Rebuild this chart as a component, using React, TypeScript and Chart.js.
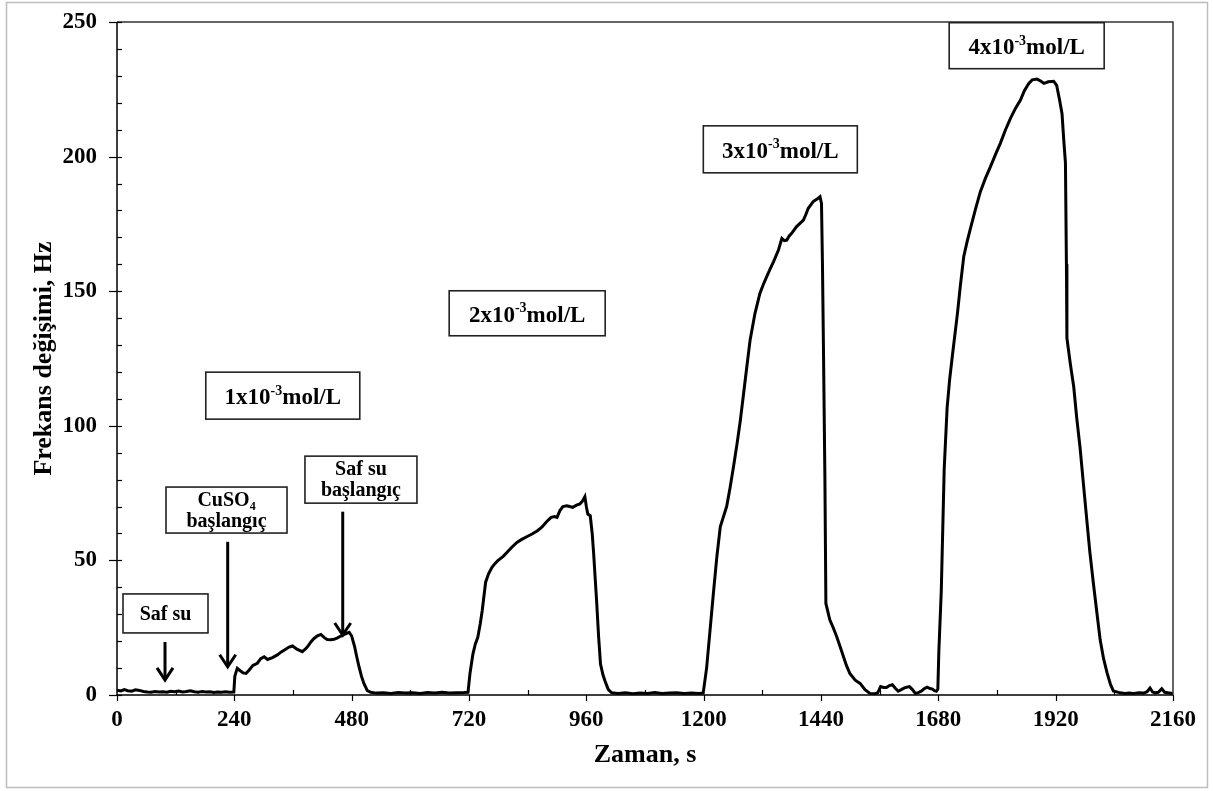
import React, { useEffect, useRef } from 'react';
import { Chart, registerables } from 'chart.js';

Chart.register(...registerables);

// ---- data (time in s, frequency change in Hz) ----
const timeS: number[] = [
  0, 8, 15, 22, 30, 38, 46, 54, 62, 70, 78, 86, 94, 102, 110, 118, 126, 134, 142, 150, 158, 166, 174, 182, 190, 198, 206, 214, 222, 230, 239,
  241, 246, 252, 258, 264, 270, 278, 287, 294, 301, 308, 318, 328, 336, 345, 352, 359, 368, 379, 385, 390, 397, 403, 410, 417, 424, 430, 437, 444, 451, 458, 466, 475, 480, 486, 490, 495, 500, 505, 512, 519,
  530, 545, 560, 575, 590, 605, 620, 635, 650, 665, 680, 695, 710, 718,
  722, 728, 733, 738, 743, 747, 754, 760, 767, 773, 779, 790, 798, 808, 818, 828, 838, 849, 860, 869, 876, 882, 888, 895, 900, 906, 912, 920, 926, 932, 940, 947, 952, 957, 960, 963, 968, 972, 975, 981, 985, 989, 994, 998, 1005, 1012,
  1025, 1040, 1055, 1070, 1085, 1100, 1115, 1130, 1145, 1160, 1175, 1190, 1199,
  1206, 1213, 1220, 1227, 1234, 1240, 1247, 1254, 1261, 1268, 1275, 1285, 1295, 1305, 1315, 1322, 1329, 1336, 1343, 1353, 1360, 1365, 1370, 1375, 1380, 1390, 1397, 1404, 1409, 1414, 1424, 1432, 1438, 1441, 1443, 1445, 1448, 1450, 1458, 1465, 1472, 1479, 1486, 1492, 1499, 1510, 1520, 1530, 1540,
  1550, 1556, 1562, 1568, 1574, 1580, 1586, 1592, 1598, 1606, 1613, 1621, 1627, 1633, 1639, 1645, 1651, 1657, 1663, 1668, 1672, 1676, 1679,
  1681, 1686, 1692, 1698, 1703, 1709, 1719, 1725, 1732, 1739, 1746, 1756, 1766, 1776, 1786, 1797, 1807, 1817, 1828, 1838, 1848, 1856, 1865, 1872, 1882, 1890, 1896, 1905, 1916, 1922, 1928, 1933, 1937, 1940, 1942, 1943, 1950, 1957, 1963, 1970, 1977, 1984, 1990, 1997, 2004, 2011, 2018, 2025, 2032, 2038,
  2052, 2062, 2070, 2080, 2090, 2100, 2107, 2113, 2118, 2123, 2130, 2137, 2143, 2150, 2160,
];

const freqHz: number[] = [
  1.8, 1.5, 2.0, 1.6, 1.4, 1.9, 1.7, 1.3, 1.1, 1.0, 1.3, 1.1, 1.2, 1.0, 1.4, 1.2, 1.5, 1.1, 1.3, 1.6, 1.2, 1.0, 1.3, 1.1, 1.2, 0.9, 1.1, 1.0, 1.2, 1.0, 1.1,
  7.0, 9.9, 9.0, 8.2, 8.0, 9.2, 11.0, 11.8, 13.5, 14.2, 13.2, 13.9, 14.9, 16.0, 17.0, 17.8, 18.2, 17.0, 16.1, 17.0, 18.0, 19.8, 21.0, 22.0, 22.5, 21.3, 20.6, 20.5, 20.7, 21.2, 21.9, 22.6, 23.3, 21.9, 18.0, 14.5, 10.5, 7.0, 4.3, 1.6, 1.0,
  0.7, 0.8, 0.6, 0.9, 0.7, 0.8, 0.6, 0.9, 0.7, 1.0, 0.7, 0.8, 0.9, 1.0,
  8.0, 15.2, 19.0, 21.4, 26.5, 31.3, 41.9, 45.0, 47.4, 48.8, 49.9, 51.5, 53.0, 55.0, 56.7, 57.8, 58.8, 59.8, 61.0, 62.3, 63.8, 65.0, 66.0, 66.3, 66.0, 68.5, 70.0, 70.3, 70.0, 69.7, 70.5, 71.0, 72.0, 73.7, 70.0, 67.2, 66.6, 60.0, 52.4, 35.0, 22.0, 11.5, 7.5, 5.3, 2.0, 0.8,
  0.6, 0.8, 0.5, 0.7, 0.6, 0.9, 0.6, 0.7, 0.8, 0.6, 0.7, 0.6, 0.7,
  10, 24, 38, 51.4, 62.5, 66, 70, 77, 84.8, 93, 102, 117, 131.9, 141.8, 149.2, 152.5, 155.4, 158.3, 161, 165.3, 169.6, 168.8, 169, 170.5, 171.5, 174, 175.2, 176.4, 178.5, 180.8, 183.3, 184.2, 185.1, 182.6, 160, 129.4, 80, 34, 27.9, 25, 21.7, 18, 14.2, 11, 8, 5.5, 4.3, 2, 0.6,
  0.5, 0.8, 3.1, 2.8, 2.8, 3.5, 3.8, 2.5, 1.4, 2.2, 2.8, 3.1, 2.0, 0.6, 0.9, 1.4, 2.3, 2.9, 2.4, 2.2, 1.6, 1.4, 2.2,
  15.9, 38.6, 84, 106.8, 117, 126.5, 141.6, 152, 162.9, 168.5, 173.5, 180.5, 187, 191.8, 196, 200.8, 205, 209.8, 214.4, 218, 221, 224.5, 227.2, 228.5, 228.8, 228.0, 227.2, 227.8, 228, 226.5, 221, 215.9, 205, 197.7, 160, 132.6, 123, 114.4, 103, 91.7, 78, 64.4, 53, 41.7, 31, 20.5, 13.5, 8.3, 4, 1.5,
  0.8, 0.6, 0.7, 0.6, 0.8, 0.7, 1.2, 2.6, 1.2, 0.8, 1.0, 2.3, 1.0, 0.8, 0.6,
];

const xTickValues: number[] = [0, 240, 480, 720, 960, 1200, 1440, 1680, 1920, 2160];
const yTickValues: number[] = [0, 50, 100, 150, 200, 250];

const xTitle = 'Zaman, s';
const yTitle = 'Frekans değişimi, Hz';

type Seg = { s: string; k?: 'sup' | 'sub' };
type Note = { x: number; y: number; w: number; h: number; size: number; lines: Seg[][]; lineOffsets: number[] };

const notes: Note[] = [
  { x: 99.2, y: 30.3, w: 85, h: 39, size: 20, lines: [[{ s: 'Saf su' }]], lineOffsets: [0] },
  { x: 224, y: 68.7, w: 121, h: 46, size: 20, lines: [[{ s: 'CuSO' }, { s: '4', k: 'sub' }], [{ s: 'başlangıç' }]], lineOffsets: [-11, 10] },
  { x: 499, y: 80, w: 112, h: 47, size: 20, lines: [[{ s: 'Saf su' }], [{ s: 'başlangıç' }]], lineOffsets: [-11, 10] },
  { x: 339.1, y: 111.2, w: 154, h: 47, size: 23, lines: [[{ s: '1x10' }, { s: '-3', k: 'sup' }, { s: 'mol/L' }]], lineOffsets: [1] },
  { x: 839, y: 141.8, w: 156, h: 45, size: 23, lines: [[{ s: '2x10' }, { s: '-3', k: 'sup' }, { s: 'mol/L' }]], lineOffsets: [1] },
  { x: 1356.8, y: 202.7, w: 154, h: 47, size: 23, lines: [[{ s: '3x10' }, { s: '-3', k: 'sup' }, { s: 'mol/L' }]], lineOffsets: [1] },
  { x: 1860.7, y: 241.2, w: 155, h: 46, size: 23, lines: [[{ s: '4x10' }, { s: '-3', k: 'sup' }, { s: 'mol/L' }]], lineOffsets: [1] },
];

// arrows: x (s), from y (Hz) down to tip y (Hz)
const arrows = [
  { x: 98.2, from: 19.7, to: 5.6 },
  { x: 226.4, from: 56.9, to: 10.5 },
  { x: 461.7, from: 68.1, to: 22.3 },
];

const FONT = '"Liberation Serif", "Times New Roman", Times, serif';
const W = 1213;
const H = 791;

function drawRich(ctx: CanvasRenderingContext2D, segs: Seg[], cx: number, cy: number, size: number) {
  const main = `bold ${size}px ${FONT}`;
  const small = `bold ${Math.round(size * 0.62)}px ${FONT}`;
  const widths = segs.map((g) => {
    ctx.font = g.k ? small : main;
    return ctx.measureText(g.s).width;
  });
  const total = widths.reduce((a, b) => a + b, 0);
  let x = cx - total / 2;
  const base = cy + size * 0.33;
  ctx.textAlign = 'left';
  ctx.textBaseline = 'alphabetic';
  ctx.fillStyle = '#000';
  segs.forEach((g, i) => {
    ctx.font = g.k ? small : main;
    const y = base + (g.k === 'sup' ? -size * 0.42 : g.k === 'sub' ? size * 0.22 : 0);
    ctx.fillText(g.s, x, y);
    x += widths[i];
  });
}

const decor = {
  id: 'decor',
  beforeDraw(chart: any) {
    const ctx = chart.ctx as CanvasRenderingContext2D;
    ctx.save();
    ctx.fillStyle = '#fff';
    ctx.fillRect(0, 0, W, H);
    ctx.strokeStyle = '#bdbdbd';
    ctx.lineWidth = 1.5;
    ctx.strokeRect(6.5, 2.5, 1201, 785);
    ctx.restore();
  },
  afterDraw(chart: any) {
    const ctx = chart.ctx as CanvasRenderingContext2D;
    const xs = chart.scales.x;
    const ys = chart.scales.y;
    const { left, right, top, bottom } = chart.chartArea;
    ctx.save();
    // plot box
    ctx.strokeStyle = '#333';
    ctx.lineWidth = 1.5;
    ctx.beginPath();
    ctx.moveTo(left, top);
    ctx.lineTo(right, top);
    ctx.lineTo(right, bottom);
    ctx.stroke();
    ctx.strokeStyle = '#000';
    ctx.beginPath();
    ctx.moveTo(left, top);
    ctx.lineTo(left, bottom);
    ctx.lineTo(right, bottom);
    ctx.stroke();
    // x ticks
    ctx.lineWidth = 1.2;
    for (let v = 0; v <= 2160; v += 120) {
      const px = Math.round(xs.getPixelForValue(v)) + 0.5;
      ctx.beginPath();
      if (v % 240 === 0) {
        ctx.moveTo(px, bottom);
        ctx.lineTo(px, bottom + 6);
      } else {
        ctx.moveTo(px, bottom - 5);
        ctx.lineTo(px, bottom);
      }
      ctx.stroke();
    }
    // y ticks
    for (let v = 0; v <= 250; v += 10) {
      const py = Math.round(ys.getPixelForValue(v)) + 0.5;
      ctx.beginPath();
      if (v % 50 === 0) {
        ctx.moveTo(left - 8, py);
        ctx.lineTo(left + 5, py);
      } else {
        ctx.moveTo(left, py);
        ctx.lineTo(left + 5, py);
      }
      ctx.stroke();
    }
    // boxes
    notes.forEach((n) => {
      const cx = xs.getPixelForValue(n.x);
      const cy = ys.getPixelForValue(n.y);
      ctx.fillStyle = '#fff';
      ctx.fillRect(cx - n.w / 2, cy - n.h / 2, n.w, n.h);
      ctx.strokeStyle = '#222';
      ctx.lineWidth = 1.6;
      ctx.strokeRect(cx - n.w / 2, cy - n.h / 2, n.w, n.h);
      n.lines.forEach((ln, i) => drawRich(ctx, ln, cx, cy + n.lineOffsets[i], n.size));
    });
    // arrows
    ctx.strokeStyle = '#000';
    ctx.lineWidth = 3;
    ctx.lineCap = 'butt';
    ctx.lineJoin = 'miter';
    arrows.forEach((a) => {
      const px = xs.getPixelForValue(a.x);
      const y0 = ys.getPixelForValue(a.from);
      const y1 = ys.getPixelForValue(a.to);
      ctx.beginPath();
      ctx.moveTo(px, y0);
      ctx.lineTo(px, y1 - 2);
      ctx.stroke();
      ctx.beginPath();
      ctx.moveTo(px - 8, y1 - 12);
      ctx.lineTo(px, y1);
      ctx.lineTo(px + 8, y1 - 12);
      ctx.stroke();
    });
    ctx.restore();
  },
};

export default function App() {
  const ref = useRef<HTMLCanvasElement | null>(null);
  useEffect(() => {
    if (!ref.current) return;
    const points = timeS.map((t, i) => ({ x: t, y: freqHz[i] }));
    const chart = new Chart(ref.current, {
      type: 'line',
      data: {
        datasets: [
          {
            data: points,
            borderColor: '#000',
            borderWidth: 3,
            pointRadius: 0,
            tension: 0,
            fill: false,
          },
        ],
      },
      options: {
        responsive: false,
        animation: false,
        devicePixelRatio: 1,
        parsing: false as any,
        layout: { padding: { left: 0, right: 40, top: 22, bottom: 0 } },
        plugins: { legend: { display: false }, tooltip: { enabled: false }, title: { display: false } },
        scales: {
          x: {
            type: 'linear',
            min: 0,
            max: 2160,
            afterFit: (s: any) => {
              s.height = 96;
              s.paddingLeft = 0;
              s.paddingRight = 0;
            },
            afterBuildTicks: (s: any) => {
              s.ticks = xTickValues.map((v) => ({ value: v }));
            },
            grid: { display: false, drawTicks: false, tickLength: 0 },
            border: { display: false },
            ticks: {
              padding: 11,
              color: '#000',
              maxRotation: 0,
              autoSkip: false,
              font: { family: FONT, size: 23, weight: 'bold' },
              callback: (v: any) => String(v),
            },
            title: {
              display: true,
              text: xTitle,
              color: '#000',
              font: { family: FONT, size: 26, weight: 'bold' },
              padding: { top: 0, bottom: 20 },
            },
          },
          y: {
            type: 'linear',
            min: 0,
            max: 250,
            afterFit: (s: any) => {
              s.width = 117;
              s.paddingTop = 0;
              s.paddingBottom = 0;
            },
            afterBuildTicks: (s: any) => {
              s.ticks = yTickValues.map((v) => ({ value: v }));
            },
            grid: { display: false, drawTicks: false, tickLength: 0 },
            border: { display: false },
            ticks: {
              padding: 20,
              color: '#000',
              autoSkip: false,
              font: { family: FONT, size: 23, weight: 'bold' },
              callback: (v: any) => String(v),
            },
            title: {
              display: true,
              text: yTitle,
              color: '#000',
              font: { family: FONT, size: 26, weight: 'bold' },
              padding: { top: 29, bottom: 0 },
            },
          },
        },
      },
      plugins: [decor],
    });
    return () => chart.destroy();
  }, []);
  return (
    <div style={{ position: 'absolute', left: 0, top: 0, width: W, height: H, background: '#fff' }}>
      <canvas ref={ref} width={W} height={H} style={{ display: 'block', width: W, height: H }} />
    </div>
  );
}
